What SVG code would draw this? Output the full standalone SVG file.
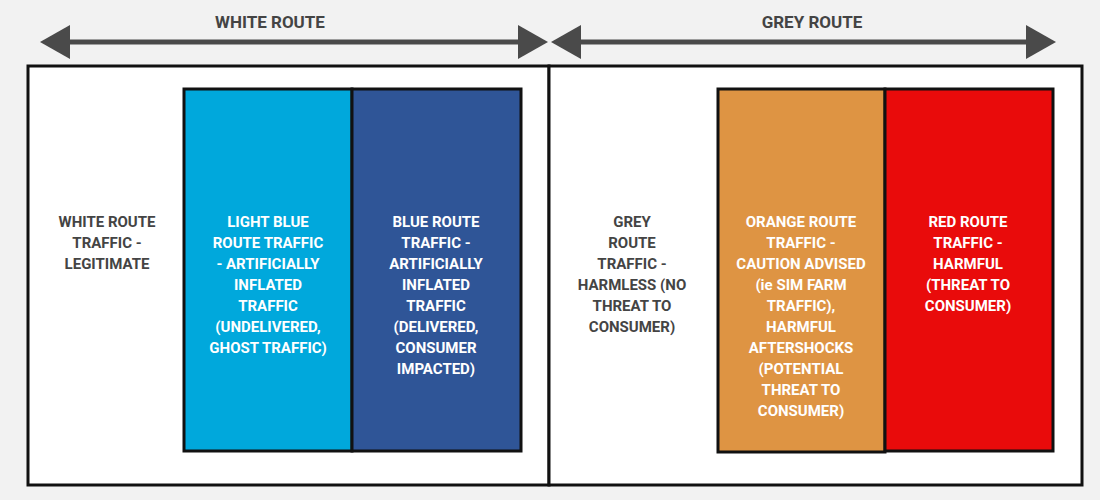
<svg xmlns="http://www.w3.org/2000/svg" width="1100" height="500" viewBox="0 0 1100 500">
<style>
text{font-family:Roboto,"Liberation Sans",sans-serif;font-weight:bold;font-size:15px;text-anchor:middle}
.w{fill:#fff}.d{fill:#444}
.h{font-size:17px;fill:#444}
.box{stroke:#111;stroke-width:3}
</style>
<defs>
<marker id="ah" viewBox="0 0 10 10" refX="9" refY="5" markerWidth="10" markerHeight="10" markerUnits="userSpaceOnUse" orient="auto-start-reverse"><path d="M0,0L10,5L0,10z" fill="#4a4a4a"/></marker>
</defs>
<rect width="1100" height="500" fill="#f2f2f2"/>
<g id="connectors">
<path d="M48,42H540" stroke="#4a4a4a" stroke-width="5" marker-start="url(#ah2)" marker-end="url(#ah2)"/>
<polygon points="40,42 70,25 70,59" fill="#4a4a4a"/>
<polygon points="548,42 518,25 518,59" fill="#4a4a4a"/>
<path d="M560,42H1048" stroke="#4a4a4a" stroke-width="5"/>
<polygon points="551,42 581,25 581,59" fill="#4a4a4a"/>
<polygon points="1056,42 1026,25 1026,59" fill="#4a4a4a"/>
</g>
<text class="h" x="270" y="28">WHITE ROUTE</text>
<text class="h" x="812" y="28">GREY ROUTE</text>
<g id="white-frame"><rect x="28" y="66" width="521" height="419" fill="#fff" stroke="#111" stroke-width="3"/>
<text class="d" x="107" y="227">WHITE ROUTE<tspan x="107" dy="21">TRAFFIC -</tspan><tspan x="107" dy="21">LEGITIMATE</tspan></text></g>
<g id="grey-frame"><rect x="549" y="66" width="533" height="419" fill="#fff" stroke="#111" stroke-width="3"/>
<text class="d" x="632" y="227">GREY<tspan x="632" dy="21">ROUTE</tspan><tspan x="632" dy="21">TRAFFIC -</tspan><tspan x="632" dy="21">HARMLESS (NO</tspan><tspan x="632" dy="21">THREAT TO</tspan><tspan x="632" dy="21">CONSUMER)</tspan></text></g>
<g id="light-blue"><rect class="box" x="184" y="89" width="168" height="362" fill="#00a8dc"/>
<text class="w" x="268" y="227">LIGHT BLUE<tspan x="268" dy="21">ROUTE TRAFFIC</tspan><tspan x="268" dy="21">- ARTIFICIALLY</tspan><tspan x="268" dy="21">INFLATED</tspan><tspan x="268" dy="21">TRAFFIC</tspan><tspan x="268" dy="21">(UNDELIVERED,</tspan><tspan x="268" dy="21">GHOST TRAFFIC)</tspan></text></g>
<g id="blue"><rect class="box" x="352" y="89" width="169" height="362" fill="#2f5597"/>
<text class="w" x="436" y="227">BLUE ROUTE<tspan x="436" dy="21">TRAFFIC -</tspan><tspan x="436" dy="21">ARTIFICIALLY</tspan><tspan x="436" dy="21">INFLATED</tspan><tspan x="436" dy="21">TRAFFIC</tspan><tspan x="436" dy="21">(DELIVERED,</tspan><tspan x="436" dy="21">CONSUMER</tspan><tspan x="436" dy="21">IMPACTED)</tspan></text></g>
<g id="orange"><rect class="box" x="718" y="89" width="167" height="363" fill="#de9443"/>
<text class="w" x="801" y="227">ORANGE ROUTE<tspan x="801" dy="21">TRAFFIC -</tspan><tspan x="801" dy="21">CAUTION ADVISED</tspan><tspan x="801" dy="21">(ie SIM FARM</tspan><tspan x="801" dy="21">TRAFFIC),</tspan><tspan x="801" dy="21">HARMFUL</tspan><tspan x="801" dy="21">AFTERSHOCKS</tspan><tspan x="801" dy="21">(POTENTIAL</tspan><tspan x="801" dy="21">THREAT TO</tspan><tspan x="801" dy="21">CONSUMER)</tspan></text></g>
<g id="red"><rect class="box" x="885" y="89" width="168" height="362" fill="#e90b0b"/>
<text class="w" x="968" y="227">RED ROUTE<tspan x="968" dy="21">TRAFFIC -</tspan><tspan x="968" dy="21">HARMFUL</tspan><tspan x="968" dy="21">(THREAT TO</tspan><tspan x="968" dy="21">CONSUMER)</tspan></text></g>
</svg>
